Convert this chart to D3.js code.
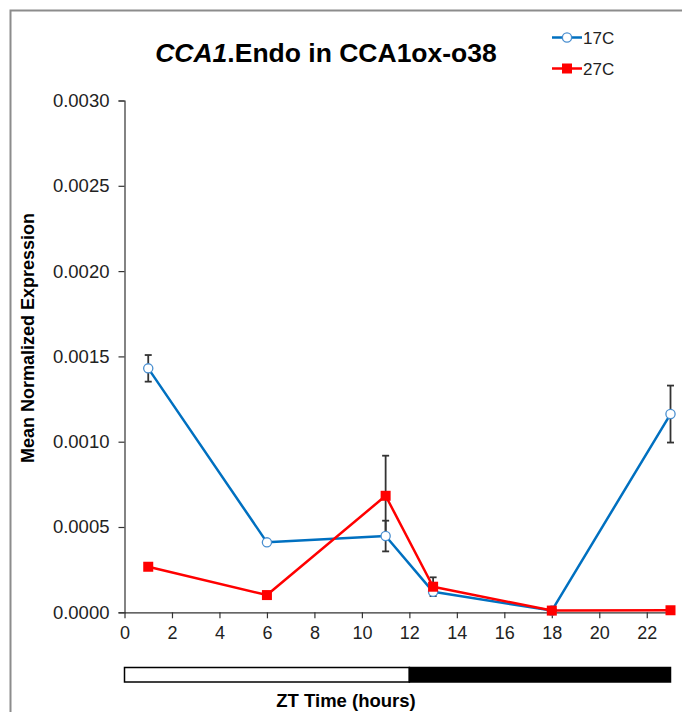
<!DOCTYPE html>
<html>
<head>
<meta charset="utf-8">
<script src="https://cdn.jsdelivr.net/npm/d3@7"></script>
<style>
  html, body { margin: 0; padding: 0; background: #fff; }
  svg { display: block; font-family: Arial, "Liberation Sans", sans-serif; }
</style>
</head>
<body>
<svg id="chart" width="682" height="712"></svg>
<script>
// Sampling times (ZT hours)
const ztHours = [1, 6, 11, 13, 18, 23];

// Mean normalized expression and standard errors per temperature
const expr17C = [0.00143, 0.00041, 0.000447, 0.00012, 0.00001, 0.001162];
const err17C  = [0.000078, 0, 0.00009, 0, 0, 0.000167];
const expr27C = [0.000267, 0.000101, 0.000683, 0.00015, 0.00001, 0.000012];
const err27C  = [0, 0, 0.000235, 0.000055, 0, 0];

const xTicks = [0, 2, 4, 6, 8, 10, 12, 14, 16, 18, 20, 22];
const yTicks = [0, 0.0005, 0.0010, 0.0015, 0.0020, 0.0025, 0.0030];

// Light / dark phases of the day
const phases = [
  { start: 0, end: 12, fill: "#ffffff" },
  { start: 12, end: 23, fill: "#000000" }
];

const series = [
  { name: "17C", values: expr17C, errors: err17C, color: "#0070c0", marker: "circle" },
  { name: "27C", values: expr27C, errors: err27C, color: "#ff0000", marker: "square" }
];

const svg = d3.select("#chart");

// Outer frame (top and left edges)
svg.append("path")
  .attr("d", "M10.5,712 V10.5 H682")
  .attr("fill", "none")
  .attr("stroke", "#8c8c8c")
  .attr("stroke-width", 2);

const x = d3.scaleLinear().domain([0, 23]).range([124.5, 670.5]);
const y = d3.scaleLinear().domain([0, 0.003]).range([612.3, 100.5]);

// Y axis
const yAxis = svg.append("g")
  .attr("transform", `translate(${x(0)},0)`)
  .call(d3.axisLeft(y).tickValues(yTicks).tickFormat(d3.format(".4f")).tickSize(6).tickPadding(9));
yAxis.select(".domain").attr("stroke", "#333").attr("stroke-width", 1.2);
yAxis.selectAll(".tick line").attr("stroke", "#333").attr("stroke-width", 1.2);
yAxis.selectAll("text").attr("font-size", 18.5).attr("fill", "#222").attr("font-family", "Arial, 'Liberation Sans', sans-serif");

// X axis
const xAxis = svg.append("g")
  .attr("transform", `translate(0,${y(0)})`)
  .call(d3.axisBottom(x).tickValues(xTicks).tickSize(6).tickSizeOuter(0).tickPadding(8));
xAxis.select(".domain").attr("stroke", "#333").attr("stroke-width", 1.2);
xAxis.selectAll(".tick line").attr("stroke", "#333").attr("stroke-width", 1.2);
xAxis.selectAll("text").attr("font-size", 18).attr("fill", "#222").attr("font-family", "Arial, 'Liberation Sans', sans-serif");

// Error bars
const capHalf = 3.5;
series.forEach(s => {
  const g = svg.append("g").attr("stroke", "#333").attr("stroke-width", 1.8).attr("fill", "none");
  ztHours.forEach((t, i) => {
    const e = s.errors[i];
    if (!e) return;
    const cx = x(t), y1 = y(s.values[i] + e), y0 = y(s.values[i] - e);
    g.append("line").attr("x1", cx).attr("x2", cx).attr("y1", y1).attr("y2", y0);
    g.append("line").attr("x1", cx - capHalf).attr("x2", cx + capHalf).attr("y1", y1).attr("y2", y1);
    g.append("line").attr("x1", cx - capHalf).attr("x2", cx + capHalf).attr("y1", y0).attr("y2", y0);
  });
});

// Lines and markers
const line = d3.line().x(d => x(d[0])).y(d => y(d[1]));
series.forEach(s => {
  const pts = ztHours.map((t, i) => [t, s.values[i]]);
  svg.append("path")
    .datum(pts)
    .attr("d", line)
    .attr("fill", "none")
    .attr("stroke", s.color)
    .attr("stroke-width", 2.5)
    .attr("stroke-linejoin", "round");
  if (s.marker === "circle") {
    svg.append("g").selectAll("circle").data(pts).join("circle")
      .attr("cx", d => x(d[0])).attr("cy", d => y(d[1])).attr("r", 4.6)
      .attr("fill", "#fff").attr("stroke", "#4a8fd0").attr("stroke-width", 1.3);
  } else {
    svg.append("g").selectAll("rect").data(pts).join("rect")
      .attr("x", d => x(d[0]) - 5).attr("y", d => y(d[1]) - 5)
      .attr("width", 10).attr("height", 10)
      .attr("fill", s.color);
  }
});

// Light/dark bar under the axis
svg.append("g").selectAll("rect").data(phases).join("rect")
  .attr("x", d => x(d.start))
  .attr("y", 667.5)
  .attr("width", d => x(d.end) - x(d.start))
  .attr("height", 14.5)
  .attr("fill", d => d.fill)
  .attr("stroke", "#000")
  .attr("stroke-width", 1.5);

// Title
const title = svg.append("text")
  .attr("x", 326)
  .attr("y", 62)
  .attr("text-anchor", "middle")
  .attr("font-size", 26.5)
  .attr("font-weight", "bold")
  .attr("fill", "#000");
title.append("tspan").attr("font-style", "italic").text("CCA1");
title.append("tspan").text(".Endo in CCA1ox-o38");

// Axis titles
svg.append("text")
  .attr("transform", "translate(34,338) rotate(-90)")
  .attr("text-anchor", "middle")
  .attr("font-size", 18)
  .attr("font-weight", "bold")
  .attr("fill", "#000")
  .text("Mean Normalized Expression");

svg.append("text")
  .attr("x", 346)
  .attr("y", 707)
  .attr("text-anchor", "middle")
  .attr("font-size", 18.5)
  .attr("font-weight", "bold")
  .attr("fill", "#000")
  .text("ZT Time (hours)");

// Legend
const legend = svg.append("g");
series.forEach((s, i) => {
  const ly = 37.5 + i * 31;
  const g = legend.append("g");
  g.append("line").attr("x1", 552).attr("x2", 582).attr("y1", ly).attr("y2", ly)
    .attr("stroke", s.color).attr("stroke-width", 2.5);
  if (s.marker === "circle") {
    g.append("circle").attr("cx", 567).attr("cy", ly).attr("r", 4.6)
      .attr("fill", "#fff").attr("stroke", "#4a8fd0").attr("stroke-width", 1.3);
  } else {
    g.append("rect").attr("x", 562).attr("y", ly - 5).attr("width", 10).attr("height", 10).attr("fill", s.color);
  }
  g.append("text").attr("x", 583).attr("y", ly + 6.5).attr("font-size", 17).attr("fill", "#222").text(s.name);
});
</script>
</body>
</html>
